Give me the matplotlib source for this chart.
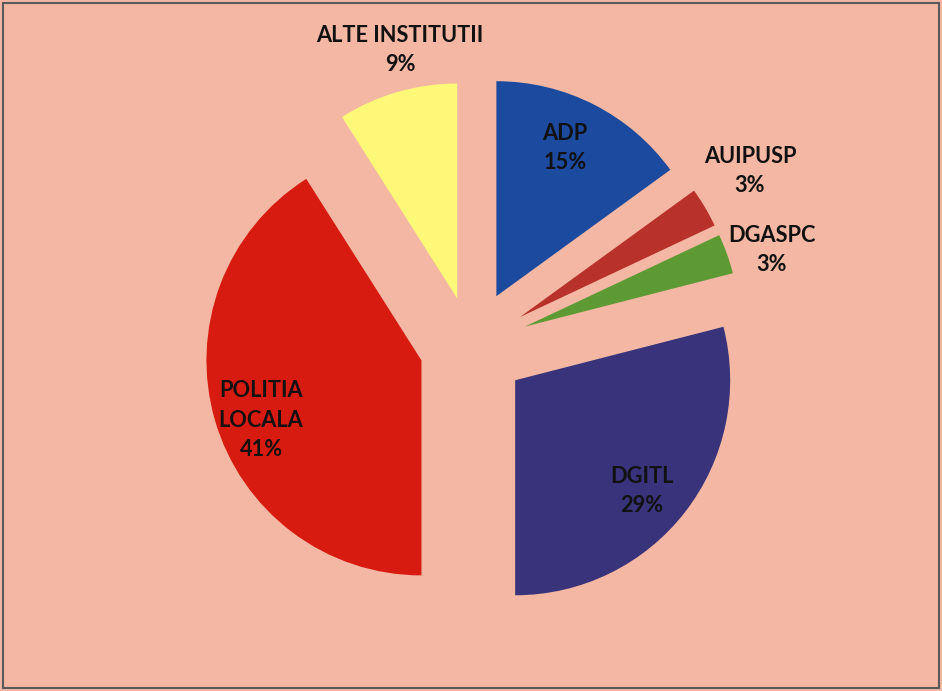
import matplotlib.pyplot as plt
from matplotlib.patches import Rectangle

# Data
labels = ['ADP', 'AUIPUSP', 'DGASPC', 'DGITL', 'POLITIA\nLOCALA', 'ALTE INSTITUTII']
shares = [15, 3, 3, 29, 41, 9]
colors = ['#1C4A9E', '#B8312A', '#5E9A34', '#38337A', '#D81B10', '#FDF878']
explode = [0.26, 0.265, 0.265, 0.26, 0.24, 0.23]  # fraction of radius

# label centres in pixel coords (x, y from top)
label_pos = [(565, 148), (750, 171), (772, 250), (642, 491), (261, 420), (400, 50)]

W, H = 942, 691
bg = '#F3B7A3'

fig = plt.figure(figsize=(W / 100, H / 100), dpi=100, facecolor=bg)
ax = fig.add_axes([0, 0, 1, 1])
ax.set_facecolor(bg)

R = 215
# matplotlib's explode is in data units, so scale by the radius
ax.pie(shares, colors=colors, explode=[e * R for e in explode], startangle=90,
       counterclock=False, center=(471, H - 346), radius=R,
       wedgeprops=dict(linewidth=0), frame=True)
ax.set_xlim(0, W)
ax.set_ylim(0, H)
ax.set_aspect('equal')
ax.axis('off')

for lab, pct, (px, py) in zip(labels, shares, label_pos):
    ax.text(px, H - py, f'{lab}\n{pct}%', ha='center', va='center', fontsize=15.7,
            fontweight='bold', family='Lato', color='#111111', linespacing=1.5)

# thin frame around the chart
fig.patches.append(Rectangle((3 / W, 3 / H), (W - 6) / W, (H - 6) / H,
                             transform=fig.transFigure, fill=False,
                             edgecolor='#5a5a5a', linewidth=1.5))

fig.savefig('out.png', dpi=100, facecolor=bg)
